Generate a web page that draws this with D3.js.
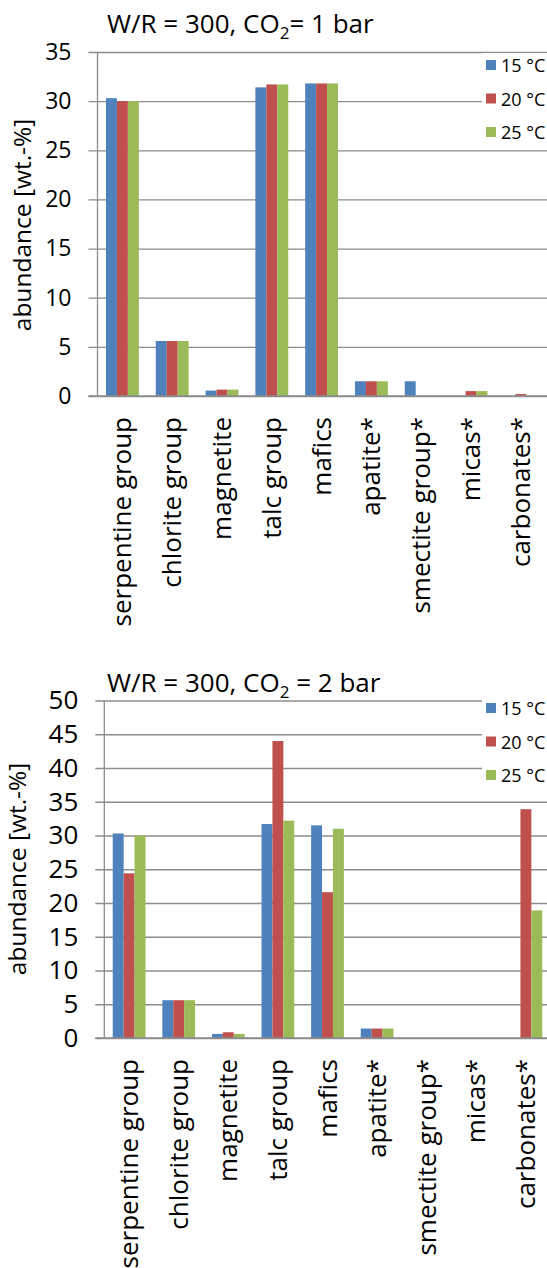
<!DOCTYPE html>
<html>
<head>
<meta charset="utf-8">
<script src="https://cdn.jsdelivr.net/npm/d3@7"></script>
<style>
  body { margin: 0; background: #fff; }
  svg { display: block; font-family: "Open Sans", "Noto Sans", sans-serif; }
</style>
</head>
<body>
<div id="chart-container"></div>
<script>
// data (wt.-%)
const minerals = ["serpentine group", "chlorite group", "magnetite", "talc group", "mafics",
  "apatite*", "smectite group*", "micas*", "carbonates*"];
const seriesNames = ["15 °C", "20 °C", "25 °C"];
const colors = ["#4F81BD", "#C0504D", "#9BBB59"];

// CO2 = 1 bar
const bar1_15 = [30.3, 5.6, 0.55, 31.4, 31.8, 1.5, 1.5, 0, 0];
const bar1_20 = [30.0, 5.6, 0.65, 31.7, 31.8, 1.5, 0, 0.5, 0.2];
const bar1_25 = [30.0, 5.6, 0.65, 31.7, 31.8, 1.5, 0, 0.5, 0];
const ticks1 = [0, 5, 10, 15, 20, 25, 30, 35];

// CO2 = 2 bar
const bar2_15 = [30.3, 5.6, 0.6, 31.7, 31.5, 1.4, 0, 0, 0];
const bar2_20 = [24.4, 5.6, 0.85, 44.0, 21.6, 1.4, 0, 0, 33.9];
const bar2_25 = [30.0, 5.6, 0.6, 32.2, 31.0, 1.4, 0, 0, 18.9];
const ticks2 = [0, 5, 10, 15, 20, 25, 30, 35, 40, 45, 50];

const W = 547, H = 1268;
const svg = d3.select("#chart-container").append("svg")
  .attr("width", W).attr("height", H);

function drawChart(opt) {
  const g = svg.append("g");
  const series = opt.values;

  const y = d3.scaleLinear().domain([0, d3.max(opt.ticks)]).range([opt.y0, opt.y1]);
  const x = d3.scaleBand().domain(minerals).range([opt.x0, opt.x1])
    .paddingInner(0.34).paddingOuter(0.17);
  const xs = d3.scaleBand().domain(d3.range(series.length)).range([0, x.bandwidth()]);

  // gridlines + left axis
  const yAxis = d3.axisLeft(y).tickValues(opt.ticks).tickSize(-(W - opt.x0)).tickPadding(opt.tickPad);
  const ax = g.append("g").attr("transform", `translate(${opt.x0},0)`).call(yAxis);
  ax.select(".domain").remove();
  ax.selectAll(".tick line").attr("stroke", "#8c8c8c").attr("stroke-width", 1.3)
    .attr("x1", -9);
  ax.selectAll(".tick text").attr("font-size", opt.tickSize).attr("fill", "#000")
    .attr("font-family", "Open Sans, sans-serif");
  g.append("line")
    .attr("x1", opt.x0).attr("x2", opt.x0)
    .attr("y1", y(d3.max(opt.ticks))).attr("y2", y(0))
    .attr("stroke", "#8c8c8c").attr("stroke-width", 1.3);

  // bars
  series.forEach((vals, si) => {
    g.append("g").selectAll("rect")
      .data(vals.map((v, i) => ({ v, m: minerals[i] })))
      .join("rect")
      .attr("x", d => x(d.m) + xs(si))
      .attr("width", xs.bandwidth())
      .attr("y", d => y(d.v))
      .attr("height", d => y(0) - y(d.v))
      .attr("fill", colors[si]);
  });

  // baseline on top of bars
  g.append("line")
    .attr("x1", opt.x0 - 9).attr("x2", W)
    .attr("y1", y(0)).attr("y2", y(0))
    .attr("stroke", "#8c8c8c").attr("stroke-width", 1.3);

  // category labels, rotated
  g.append("g").selectAll("text")
    .data(minerals)
    .join("text")
    .attr("transform", d => `translate(${x(d) + x.bandwidth() / 2 + 9},${y(0) + 21}) rotate(-90)`)
    .attr("text-anchor", "end")
    .attr("font-size", 26)
    .text(d => d);

  // y title
  g.append("text")
    .attr("transform", `translate(${opt.yTitleX},${opt.yTitleY}) rotate(-90)`)
    .attr("text-anchor", "middle")
    .attr("font-size", 24.5)
    .text("abundance [wt.-%]");

  // chart title
  const t = g.append("text").attr("x", 107).attr("y", opt.titleY).attr("font-size", 26);
  t.append("tspan").text("W/R = 300, CO");
  t.append("tspan").attr("font-size", 17).attr("dy", 6).text("2");
  t.append("tspan").attr("dy", -6).text(opt.titleRest);

  // legend box over the gridlines
  const lg = g.append("g").attr("transform", `translate(482,${opt.legendY})`);
  lg.append("rect").attr("x", 0).attr("y", -12).attr("width", W - 482).attr("height", 92)
    .attr("fill", "#fff");
  seriesNames.forEach((s, i) => {
    lg.append("rect").attr("x", 4).attr("y", i * 33.5 - 5).attr("width", 10).attr("height", 10)
      .attr("fill", colors[i]);
    lg.append("text").attr("x", 19).attr("y", i * 33.5 + 7).attr("font-size", 18).text(s);
  });
}

drawChart({
  values: [bar1_15, bar1_20, bar1_25], ticks: ticks1,
  y0: 396, y1: 52, x0: 97.5, x1: 545.7,
  tickSize: 23, tickPad: 26,
  yTitleX: 31, yTitleY: 225, titleY: 33, titleRest: "= 1 bar", legendY: 65
});

drawChart({
  values: [bar2_15, bar2_20, bar2_25], ticks: ticks2,
  y0: 1038, y1: 700.5, x0: 104.3, x1: 550.7,
  tickSize: 26, tickPad: 26,
  yTitleX: 26, yTitleY: 869, titleY: 692, titleRest: "  = 2 bar", legendY: 708
});
</script>
</body>
</html>
